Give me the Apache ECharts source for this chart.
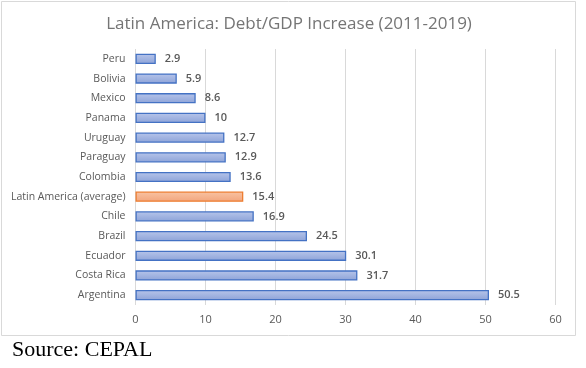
<!DOCTYPE html>
<html><head><meta charset="utf-8">
<script src="https://cdn.jsdelivr.net/npm/echarts@6/dist/echarts.min.js"></script>
<style>html,body{margin:0;padding:0;background:#fff}#c{width:586px;height:368px}</style>
</head><body><div id="c"></div>
<script>
const categories = ["Peru","Bolivia","Mexico","Panama","Uruguay","Paraguay","Colombia","Latin America (average)","Chile","Brazil","Ecuador","Costa Rica","Argentina"];
const values = [2.9,5.9,8.6,10,12.7,12.9,13.6,15.4,16.9,24.5,30.1,31.7,50.5];
const highlight = "Latin America (average)";
const xTicks = [0,10,20,30,40,50,60];

const blueFill = new echarts.graphic.LinearGradient(0,0,0,1,[{offset:0,color:'#b7c5ea'},{offset:1,color:'#8da3d8'}]);
const orangeFill = new echarts.graphic.LinearGradient(0,0,0,1,[{offset:0,color:'#f8c3a3'},{offset:1,color:'#f2a57c'}]);

const chart = echarts.init(document.getElementById('c'), null, {renderer:'canvas'});
chart.setOption({
  animation:false,
  backgroundColor:'#fff',
  title:{text:'Latin America: Debt/GDP Increase (2011-2019)', left:284, textAlign:'center', top:11,
    textStyle:{fontFamily:'Open Sans', fontSize:17, fontWeight:'normal', color:'#757575'}},
  grid:{left:135.5, right:30.5, top:49, bottom:63, containLabel:false},
  xAxis:{type:'value', min:xTicks[0], max:xTicks[xTicks.length-1], interval:10,
    axisLine:{show:false}, axisTick:{show:false},
    axisLabel:{color:'#595959', fontSize:11, fontFamily:'Open Sans', margin:9},
    splitLine:{lineStyle:{color:'#d9d9d9', width:1}}},
  yAxis:{type:'category', data:categories, inverse:true,
    axisLine:{show:false}, axisTick:{show:false},
    axisLabel:{color:'#595959', fontSize:10.5, fontFamily:'Open Sans', margin:10}},
  series:[{type:'bar', barWidth:'52%',
    data:values.map((v,i)=>({value:v, itemStyle: categories[i]===highlight ?
      {color:orangeFill, borderColor:'#ed7d31', borderWidth:1.3} :
      {color:blueFill, borderColor:'#4472c4', borderWidth:1.3}})),
    label:{show:true, position:'right', distance:9, color:'#595959', fontSize:11, fontWeight:600, fontFamily:'Open Sans'}
  }],
  graphic:[
    {type:'rect', shape:{x:1.5,y:1.5,width:574,height:334}, style:{fill:null, stroke:'#d9d9d9', lineWidth:1}, silent:true},
    {type:'text', left:12, top:339, style:{text:'Source: CEPAL', font:'22px "Liberation Serif"', fill:'#000'}}
  ]
});
</script></body></html>
